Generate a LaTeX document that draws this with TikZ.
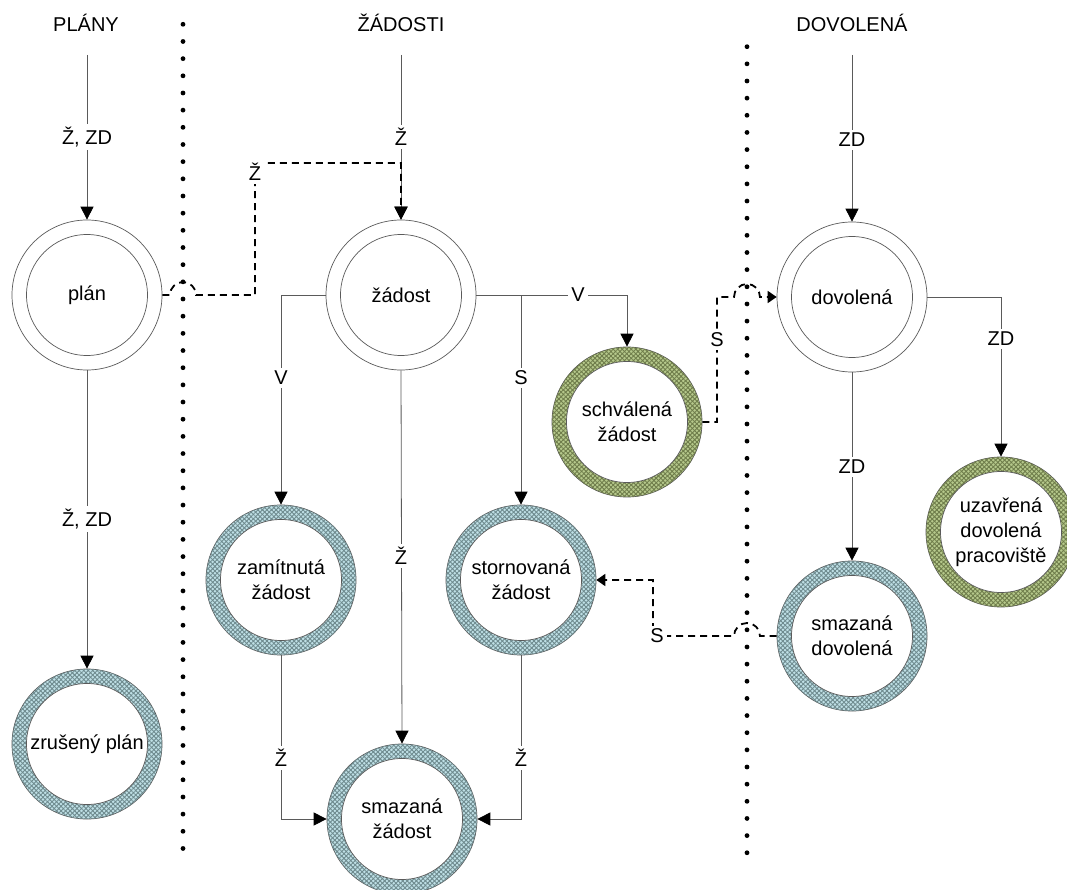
\documentclass[tikz,border=0pt]{standalone}
\usepackage{fontspec}
\setmainfont{Liberation Sans}
\usetikzlibrary{arrows.meta,patterns.meta}
\definecolor{ringblue}{HTML}{BFE0E6}
\definecolor{ringgreen}{HTML}{B6C98C}
\definecolor{hatchblue}{HTML}{6E8A8E}
\definecolor{hatchgreen}{HTML}{6E7C4A}
\definecolor{edgegray}{HTML}{5A5A5A}
\begin{document}
\begin{tikzpicture}[x=1pt,y=-1pt,
  every node/.style={font=\fontsize{20}{25}\selectfont},
  outerc/.style={circle,draw=edgegray,line width=0.7pt,minimum size=150pt,inner sep=0pt},
  innerc/.style={circle,draw=edgegray,line width=0.7pt,minimum size=121pt,inner sep=0pt,align=center,fill=white},
  bluering/.style={outerc,fill=ringblue,
     postaction={pattern={Lines[angle=45,distance=3.2pt,line width=0.9pt]},pattern color=hatchblue},
     postaction={pattern={Lines[angle=-45,distance=3.2pt,line width=0.9pt]},pattern color=hatchblue}},
  greenring/.style={outerc,fill=ringgreen,
     postaction={pattern={Lines[angle=45,distance=3.2pt,line width=0.9pt]},pattern color=hatchgreen},
     postaction={pattern={Lines[angle=-45,distance=3.2pt,line width=0.9pt]},pattern color=hatchgreen}},
  conn/.style={draw=edgegray,line width=0.8pt,-{Triangle[width=13pt,length=13pt,color=black]}},
  dsh/.style={draw=black,line width=1.8pt,dash pattern=on 7pt off 5pt},
  smalltip/.style={-{Triangle[width=12pt,length=9pt,color=black]}},
  bigtip/.style={-{Triangle[width=13pt,length=13pt,color=black]}},
  lbl/.style={fill=white,inner sep=3pt},
  title/.style={inner sep=2pt}
]
\clip (0,0) rectangle (1067,890);
\fill[white] (0,0) rectangle (1067,890);

% titles
\node[title] (tplany) at (86,23) {PLÁNY};
\node[title] (tzadosti) at (401,23) {ŽÁDOSTI};
\node[title] (tdovolena) at (852,23) {DOVOLENÁ};

% dotted separators
\foreach \i in {0,...,48} \fill (183,{24.3+17.17*\i}) circle[radius=2.4];
\foreach \i in {0,...,47} \fill (747,{46.7+17.15*\i}) circle[radius=2.4];

% double circles
\node[outerc] (plan) at (87,295) {};
\node[innerc] (planin) at (plan) {plán};
\node[outerc] (zadost) at (401,295) {};
\node[innerc] (zadostin) at (zadost) {žádost};
\node[outerc] (dov) at (852,297) {};
\node[innerc] (dovin) at (dov) {dovolená};

% hatched rings
\node[bluering] (zrus) at (87,744) {};
\node[innerc] (zrusin) at (zrus) {zrušený plán};
\node[bluering] (zam) at (281,580) {};
\node[innerc] (zamin) at (zam) {zamítnutá\\žádost};
\node[bluering] (stor) at (521,580) {};
\node[innerc] (storin) at (stor) {stornovaná\\žádost};
\node[greenring] (schv) at (627,422) {};
\node[innerc] (schvin) at (schv) {schválená\\žádost};
\node[bluering] (smz) at (402,819) {};
\node[innerc] (smzin) at (smz) {smazaná\\žádost};
\node[bluering] (smdov) at (852,636) {};
\node[innerc] (smdovin) at (smdov) {smazaná\\dovolená};
\node[greenring] (uzav) at (1001,532) {};
\node[innerc] (uzavin) at (uzav) {uzavřená\\dovolená\\pracoviště};

% entry arrows
\coordinate (planTop) at (87,55);
\coordinate (zadTop) at (401,55);
\coordinate (dovTop) at (852,55);
\draw[conn] (planTop) -- (plan.north);
\draw[conn] (zadTop) -- (zadost.north);
\draw[conn] (dovTop) -- (dov.north);

% solid transitions
\draw[conn] (plan.south) -- (zrus.north);
\draw[conn] (zadost.west) -| (zam.north);
\draw[conn] (zadost.south) -- (smz.north);
\draw[conn] (zadost.east) -| (stor.north);
\draw[conn] (zadost.east) -| (schv.north);
\draw[conn] (zam.south) |- (smz.west);
\draw[conn] (stor.south) |- (smz.east);
\draw[conn] (dov.south) -- (smdov.north);
\draw[conn] (dov.east) -| (uzav.north);

% dashed transitions with hops
\draw[dsh,bigtip] (plan.east) -- (170,295) arc[start angle=180,end angle=360,radius=13] -- (255,295) -- (255,163) -- (401,163) -- (zadost.north);
\draw[dsh,smalltip] (schv.east) -- (717,422) -- (717,297) -- (734,297) arc[start angle=180,end angle=360,radius=13] -- (dov.west);
\draw[dsh,smalltip] (smdov.west) -- (760,636) arc[start angle=0,end angle=-180,radius=13] -- (653,636) -- (653,580) -- (stor.east);

% labels
\node[lbl] (l1) at (87,137) {Ž, ZD};
\node[lbl] (l2) at (401,137) {Ž};
\node[lbl] (l3) at (852,140) {ZD};
\node[lbl] (l4) at (255,172) {Ž};
\node[lbl] (l5) at (87,519) {Ž, ZD};
\node[lbl] (l6) at (281,378) {V};
\node[lbl] (l7) at (401,556) {Ž};
\node[lbl] (l8) at (521,378) {S};
\node[lbl] (l9) at (578,295) {V};
\node[lbl] (l10) at (717,340) {S};
\node[lbl] (l11) at (1001,339) {ZD};
\node[lbl] (l12) at (852,467) {ZD};
\node[lbl] (l13) at (281,758) {Ž};
\node[lbl] (l14) at (521,758) {Ž};
\node[lbl] (l15) at (657,636) {S};
\end{tikzpicture}
\end{document}
